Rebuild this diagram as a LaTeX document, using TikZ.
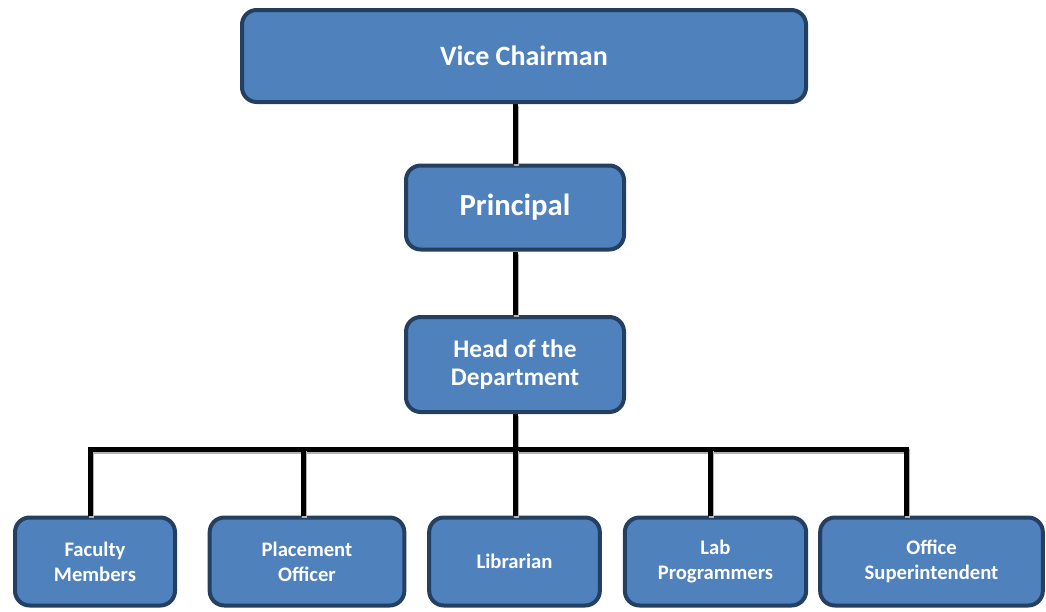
\documentclass[tikz,border=0pt]{standalone}
\usepackage{fontspec}
\setmainfont{Carlito}
\usepackage{tikz}
\usetikzlibrary{calc}
\definecolor{boxfill}{HTML}{4F81BD}
\definecolor{boxline}{HTML}{243F60}

\begin{document}
\begin{tikzpicture}[x=0.75pt,y=-0.75pt,line join=miter,
  orgbox/.style={draw=boxline,fill=boxfill,line width=3pt,rounded corners=11pt,text=white,align=center,inner sep=0pt},
  toplevel/.style={orgbox,font=\bfseries\fontsize{21}{25}\selectfont},
  midlevel/.style={orgbox,font=\bfseries\fontsize{19}{20.5}\selectfont},
  staff/.style={orgbox,minimum height=66pt,font=\bfseries\fontsize{15.5}{18.75}\selectfont},
  link/.style={line width=3.75pt,preaction={draw=black!30,line width=3.75pt,transform canvas={shift={(0.8pt,-1.8pt)}}}}]
\useasboundingbox (0,0) rectangle (1046,611);
% upper levels
\node[toplevel,minimum width=423pt,minimum height=69pt] (vice) at (524,56) {Vice Chairman};
\node[toplevel,font=\bfseries\fontsize{23}{26}\selectfont,minimum width=163.5pt,minimum height=63pt] (principal) at (515,207.5) {Principal};
\node[midlevel,minimum width=163.5pt,minimum height=71.25pt] (hod) at (515,364.5) {Head of the\\Department};
% staff row
\node[staff,minimum width=120pt] (faculty) at (95,561.5) {Faculty\\Members};
\node[staff,minimum width=146pt] (placement) at (307,561.5) {Placement\\Officer};
\node[staff,minimum width=128pt] (librarian) at (514.5,561.5) {Librarian};
\node[staff,minimum width=136pt] (lab) at (715.5,561.5) {Lab\\Programmers};
\node[staff,minimum width=167pt] (office) at (931.5,561.5) {Office\\Superintendent};
% bus
\coordinate (b1) at (90,449);
\coordinate (b2) at (303,449);
\coordinate (b3) at (515,449);
\coordinate (b4) at (710,449);
\coordinate (b5) at (906,449);
\draw[link] (principal.north) -- (principal.north |- vice.south);
\draw[link] (hod.north) -- (principal.south);
\draw[link] (hod.south) -- (b3);
\draw[link] (b1 |- faculty.north) -- (b1) -- (b5) -- (b5 |- office.north);
\draw[link] (b2) -- (b2 |- placement.north);
\draw[link] (b3) -- (b3 |- librarian.north);
\draw[link] (b4) -- (b4 |- lab.north);
\end{tikzpicture}
\end{document}
